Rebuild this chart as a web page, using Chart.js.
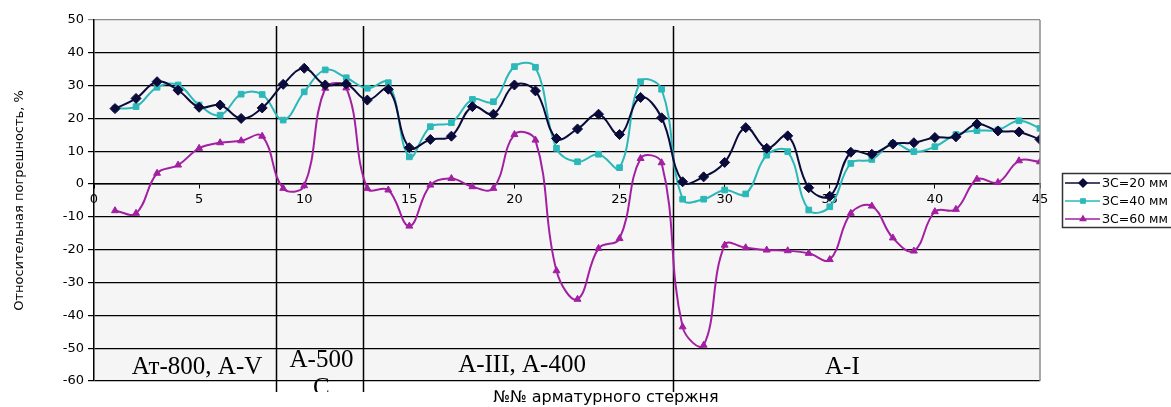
<!DOCTYPE html>
<html>
<head>
<meta charset="utf-8">
<script src="https://cdn.jsdelivr.net/npm/chart.js@4.4.1/dist/chart.umd.min.js"></script>
<style>
  html, body { margin: 0; padding: 0; background: #fff; }
  #wrap { width: 1171px; height: 407px; position: relative; }
</style>
</head>
<body>
<div id="wrap"><canvas id="c" width="1171" height="407"></canvas></div>
<script>
// Rod numbers (x axis)
const rodNumbers = [1, 2, 3, 4, 5, 6, 7, 8, 9, 10, 11, 12, 13, 14, 15, 16, 17, 18, 19, 20, 21, 22, 23,
  24, 25, 26, 27, 28, 29, 30, 31, 32, 33, 34, 35, 36, 37, 38, 39, 40, 41, 42, 43, 44, 45];

// Relative error, % — concrete cover 20 mm
const cover20 = [23.0, 26.1, 31.2, 28.6, 23.4, 24.1, 20.0, 23.2, 30.4, 35.3, 30.2, 30.5, 25.6, 28.9,
  11.1, 13.6, 14.6, 23.6, 21.3, 30.2, 28.4, 13.9, 16.8, 21.3, 15.1, 26.4, 20.2, 0.7, 2.2, 6.6, 17.2,
  10.9, 14.7, -1.1, -3.7, 9.7, 9.1, 12.2, 12.6, 14.2, 14.4, 18.3, 16.2, 15.9, 13.6];

// Relative error, % — concrete cover 40 mm
const cover40 = [23.1, 23.6, 29.5, 30.2, 24.1, 21.0, 27.4, 27.3, 19.5, 28.1, 34.8, 32.4, 29.2, 30.9,
  8.3, 17.5, 18.7, 25.8, 25.1, 35.8, 35.6, 10.9, 6.8, 9.1, 5.0, 31.2, 28.9, -4.6, -4.6, -1.8, -3.0,
  8.8, 9.9, -7.9, -6.9, 6.3, 7.5, 12.4, 9.9, 11.4, 15.1, 16.3, 16.5, 19.3, 17.0];

// Relative error, % — concrete cover 60 mm
const cover60 = [-8.1, -8.9, 3.3, 5.8, 10.9, 12.6, 13.2, 14.6, -1.3, -0.5, 29.2, 29.3, -1.3, -1.8,
  -12.8, -0.3, 1.7, -0.8, -1.3, 15.1, 13.4, -26.4, -35.1, -19.6, -16.6, 7.8, 6.5, -43.5, -49.1, -18.6,
  -19.4, -20.1, -20.3, -21.1, -23.0, -8.9, -6.7, -16.4, -20.4, -8.4, -7.7, 1.5, 0.5, 7.1, 6.8];

const seriesNames = ['ЗС=20 мм', 'ЗС=40 мм', 'ЗС=60 мм'];

// Boundaries between steel classes (rod number units) and the class names
const classBreaks = [8.66, 12.81, 27.56];
const classNames = [['Ат-800, А-V'], ['А-500', 'С'], ['А-III, А-400'], ['А-I']];

// Where each class name sits (rod number, error value of first line)
const classLabelAnchors = [
  { x: 4.9, y: -55.8 },
  { x: 10.82, y: -53.7 },
  { x: 20.36, y: -55.2 },
  { x: 35.6, y: -56.0 }
];

const yTitle = 'Относительная погрешность, %';
const xTitle = '№№ арматурного стержня';

const colors = ['#0b0b3b', '#2bb8b8', '#a21fa2'];
const markers = [
  { style: 'rectRot', radius: 5 },
  { style: 'rect', radius: 4 },
  { style: 'triangle', radius: 4 }
];
const seriesValues = [cover20, cover40, cover60];

const datasets = seriesValues.map((vals, s) => ({
  label: seriesNames[s],
  data: rodNumbers.map((n, i) => ({ x: n, y: vals[i] })),
  borderColor: colors[s],
  backgroundColor: colors[s],
  borderWidth: 2,
  tension: 0.4,
  pointStyle: markers[s].style,
  pointRadius: markers[s].radius,
  pointBorderWidth: 1,
  pointBackgroundColor: colors[s],
  pointBorderColor: colors[s]
}));

const TICK_FONT = { family: 'DejaVu Sans', size: 13 };

// Plot background and the grey frame on the right
const frame = {
  id: 'frame',
  beforeDraw(chart) {
    const { ctx, chartArea: a } = chart;
    ctx.save();
    ctx.fillStyle = '#ffffff';
    ctx.fillRect(0, 0, chart.width, chart.height);
    ctx.fillStyle = '#f5f5f5';
    ctx.fillRect(a.left, a.top, a.right - a.left, a.bottom - a.top);
    ctx.restore();
  },
  afterDraw(chart) {
    const { ctx, chartArea: a } = chart;
    ctx.save();
    ctx.strokeStyle = '#8c8c8c';
    ctx.lineWidth = 1.5;
    ctx.beginPath();
    ctx.moveTo(a.right, a.top);
    ctx.lineTo(a.right, a.bottom);
    ctx.stroke();
    ctx.restore();
  }
};

// Steel class separators and their names
const classes = {
  id: 'classes',
  beforeDatasetsDraw(chart) {
    const { ctx, chartArea: a, scales: { x, y } } = chart;
    ctx.save();
    ctx.strokeStyle = '#000';
    ctx.lineWidth = 1.5;
    classBreaks.forEach(b => {
      const px = Math.round(x.getPixelForValue(b)) + 0.5;
      ctx.beginPath();
      ctx.moveTo(px, a.top + 6);
      ctx.lineTo(px, a.bottom + 11);
      ctx.stroke();
    });
    ctx.beginPath();
    ctx.rect(0, 0, chart.width, a.bottom + 11);
    ctx.clip();
    ctx.fillStyle = '#000';
    ctx.font = '25px "Liberation Serif"';
    ctx.textAlign = 'center';
    ctx.textBaseline = 'middle';
    classNames.forEach((lines, i) => {
      const cx = x.getPixelForValue(classLabelAnchors[i].x);
      const cy = y.getPixelForValue(classLabelAnchors[i].y);
      lines.forEach((t, k) => ctx.fillText(t, cx, cy + k * 28));
    });
    ctx.restore();
  }
};

// Boxed legend with line + marker samples, and the x axis caption
const legendBox = {
  id: 'legendBox',
  afterDraw(chart) {
    const { ctx } = chart;
    ctx.save();
    ctx.strokeStyle = '#333';
    ctx.lineWidth = 1.5;
    ctx.strokeRect(1062.5, 173.5, 130, 54);
    ctx.font = '12.5px "DejaVu Sans"';
    ctx.textBaseline = 'middle';
    ctx.textAlign = 'left';
    chart.data.datasets.forEach((ds, i) => {
      const ly = 183 + i * 18;
      ctx.strokeStyle = ds.borderColor;
      ctx.lineWidth = 1.5;
      ctx.beginPath();
      ctx.moveTo(1065, ly);
      ctx.lineTo(1100, ly);
      ctx.stroke();
      ctx.fillStyle = ds.borderColor;
      Chart.helpers.drawPoint(ctx, { pointStyle: ds.pointStyle, radius: ds.pointRadius - 1, rotation: 0, borderWidth: 1 }, 1083, ly);
      ctx.fill();
      ctx.fillStyle = '#000';
      ctx.fillText(ds.label, 1102, ly + 1);
    });
    ctx.font = '16px "DejaVu Sans"';
    ctx.textAlign = 'center';
    ctx.fillStyle = '#000';
    ctx.fillText(xTitle, 606, 398);
    ctx.restore();
  }
};

new Chart(document.getElementById('c'), {
  type: 'line',
  data: { datasets },
  options: {
    responsive: false,
    animation: false,
    devicePixelRatio: 1,
    layout: { padding: { left: 0, right: 131, top: 20, bottom: 26 } },
    plugins: {
      legend: { display: false },
      tooltip: { enabled: false },
      title: { display: false }
    },
    scales: {
      x: {
        type: 'linear',
        position: { y: 0 },
        min: 0,
        max: 45,
        ticks: { stepSize: 5, autoSkip: false, maxRotation: 0, font: TICK_FONT, color: '#000', padding: 4 },
        grid: { drawOnChartArea: false, drawTicks: true, tickLength: 4, color: '#000' },
        border: { display: true, color: '#000', width: 1.5 }
      },
      y: {
        min: -60,
        max: 50,
        afterFit(scale) { scale.width = 94; },
        ticks: { stepSize: 10, font: TICK_FONT, color: '#000', padding: 4 },
        grid: {
          color: c => (c.tick && c.tick.value === 50 ? '#8c8c8c' : '#000'),
          lineWidth: 1.2,
          tickLength: 6
        },
        border: { display: true, color: '#000', width: 1.5 },
        title: {
          display: true,
          text: yTitle,
          color: '#000',
          font: { family: 'DejaVu Sans', size: 13 },
          padding: { top: 12, bottom: 0 }
        }
      }
    }
  },
  plugins: [frame, classes, legendBox]
});
</script>
</body>
</html>
